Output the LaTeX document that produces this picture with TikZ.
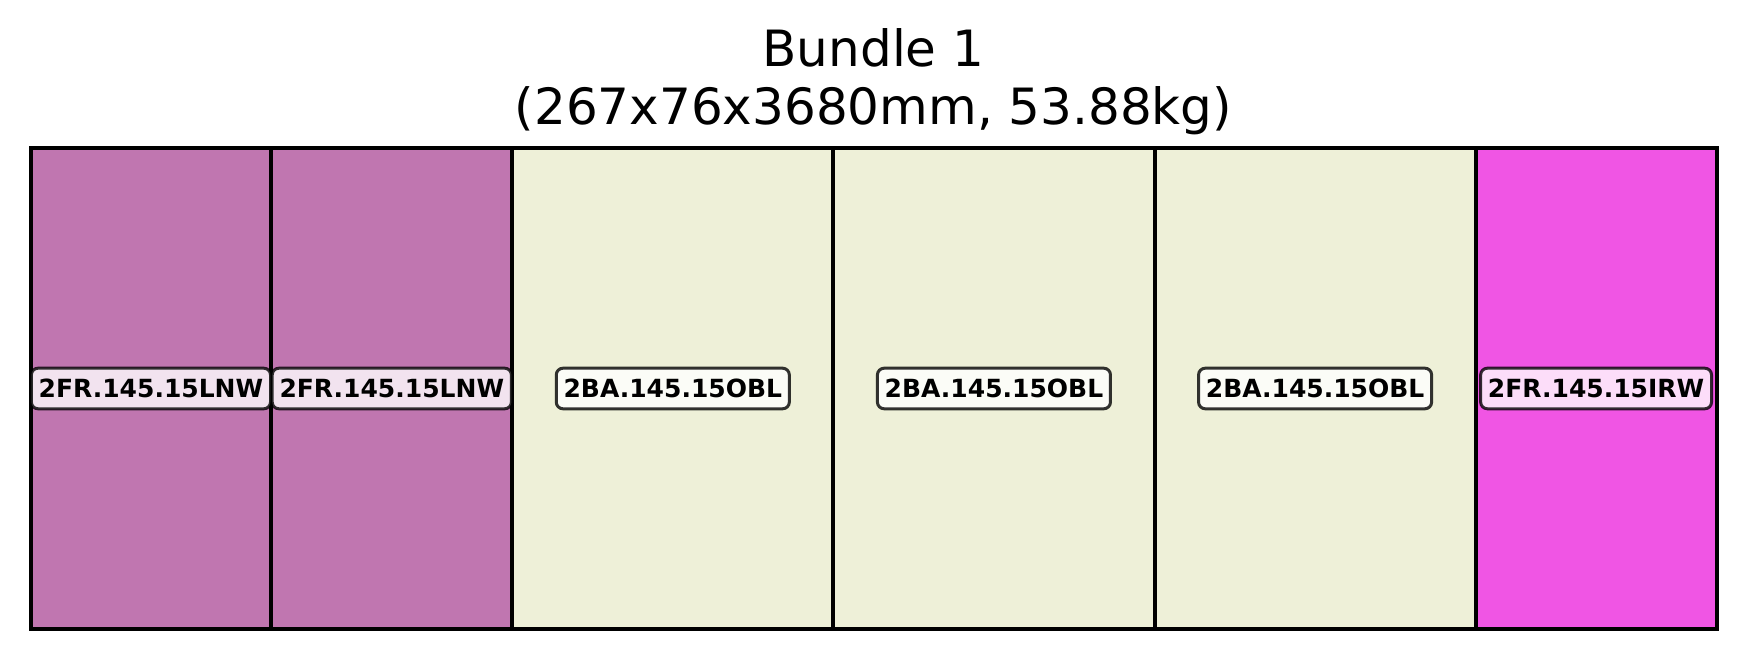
\documentclass[tikz,border=0pt]{standalone}
\usepackage{fontspec}
\setmainfont{DejaVu Sans}
\definecolor{lnwcol}{RGB}{192,118,176}
\definecolor{oblcol}{RGB}{238,240,216}
\definecolor{irwcol}{RGB}{240,85,228}
\tikzset{
  board/.style={draw=black, line width=0.96pt, anchor=north west, inner sep=0pt, outer sep=0pt, minimum height=115.44pt},
  tag/.style={draw=black, draw opacity=0.8, line width=0.72pt, fill=white, fill opacity=0.8, text opacity=1,
    rounded corners=1.6pt, inner xsep=1.75pt, inner ysep=2.6pt, font=\fontsize{6}{7}\selectfont\bfseries}
}
\begin{document}
\begin{tikzpicture}[x=0.24pt, y=-0.24pt]
      \useasboundingbox (0,0) rectangle (1746,660);

      \node[anchor=base, align=center, font=\fontsize{12}{13.8}\selectfont] (title) at (873.5,124.5)
        {Bundle 1\\(267x76x3680mm, 53.88kg)};

      \foreach \n/\x/\w/\c in {b1/30.5/240.86/lnwcol, b2/271.36/240.86/lnwcol, b3/512.21/321.14/oblcol,
                               b4/833.36/321.14/oblcol, b5/1154.5/321.14/oblcol, b6/1475.64/240.86/irwcol} {
        \node[board, fill=\c, minimum width={\w*0.24pt}] (\n) at (\x,148) {};
      }

      \foreach \n/\t in {b1/2FR.145.15LNW, b2/2FR.145.15LNW, b3/2BA.145.15OBL,
                         b4/2BA.145.15OBL, b5/2BA.145.15OBL, b6/2FR.145.15IRW} {
        \node[tag] (\n-tag) at (\n.center) {\t};
      }
    \end{tikzpicture}
\end{document}
